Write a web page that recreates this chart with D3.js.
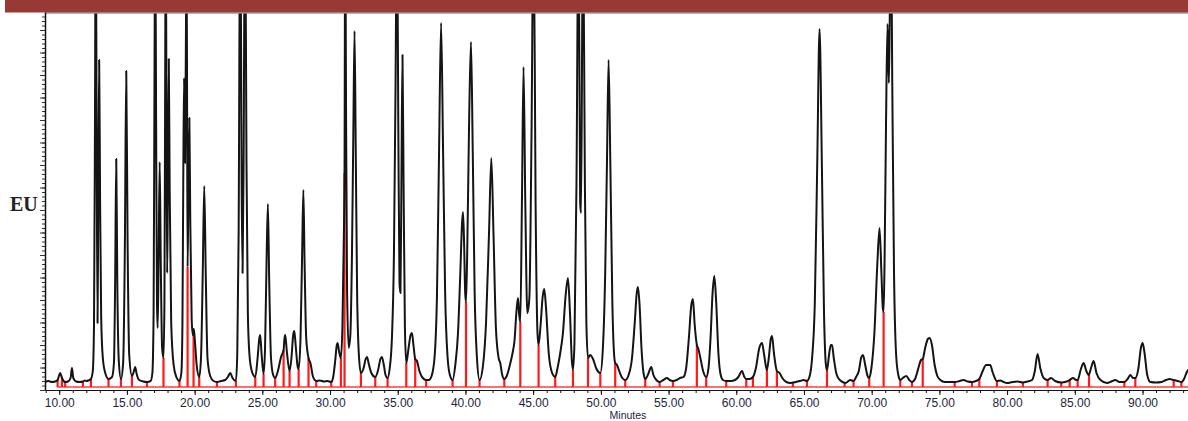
<!DOCTYPE html>
<html><head><meta charset="utf-8">
<script src="https://cdn.jsdelivr.net/npm/d3@7"></script>
<style>html,body{margin:0;padding:0;background:#fff;} svg{display:block}</style>
</head><body><svg id="chart" width="1188" height="421"></svg>
<script>
// Chromatogram trace: [retention time (min), signal (EU)]
const trace = [
[8.95,1],[9.20,2],[9.45,1],[9.70,1.5],[9.88,3],[9.98,7],[10.07,10],[10.18,6],[10.32,2],[10.44,1],[10.65,1.5],[10.84,5],[10.94,15],[11.04,5],[11.25,1.5],[11.50,1],[11.75,1.5],[11.90,2.5],[12.00,2],[12.15,2.5],[12.34,4],[12.48,12],
[12.57,60],[12.64,260],[12.70,480],[12.76,260],[12.83,60],[12.88,170],[12.95,323],[13.02,180],[13.10,65],[13.22,25],[13.40,10],[13.64,4],
[13.90,6],[14.04,20],[14.13,100],[14.21,224],[14.29,100],[14.40,22],[14.56,4],[14.72,20],[14.85,140],[14.95,312],[15.05,140],[15.17,28],[15.37,7],[15.50,11],[15.61,16],[15.72,9],[15.90,3],[16.20,1.5],[16.48,1],[16.75,2],
[16.88,10],[16.97,70],[17.03,280],[17.09,470],[17.15,280],[17.22,80],[17.27,55],[17.34,120],[17.42,221],[17.50,120],[17.60,35],[17.70,25],[17.77,80],[17.82,280],[17.87,470],[17.92,260],[17.97,110],[18.02,180],[18.09,324],[18.16,190],[18.27,60],[18.45,18],[18.65,6],[18.88,2],
[19.02,10],[19.10,60],[19.16,200],[19.22,305],[19.29,220],[19.35,330],[19.40,430],[19.44,300],[19.48,116],[19.54,190],[19.61,265],[19.68,160],[19.78,65],[19.86,48],[19.94,54],[20.02,42],[20.15,18],[20.34,6],[20.47,25],[20.60,110],[20.71,197],[20.82,110],[20.95,25],[21.15,7],[21.40,2],[21.65,1],[21.95,2],[22.25,3],[22.45,6],[22.63,10],[22.80,5],[23.05,2],
[23.15,30],[23.25,150],[23.37,500],[23.47,200],[23.54,110],[23.62,230],[23.72,500],[23.83,220],[23.93,70],[24.05,28],[24.22,12],[24.48,6],[24.65,25],[24.78,45],[24.84,48],[24.95,28],[25.09,9],[25.20,35],[25.31,120],[25.41,179],[25.51,100],[25.64,25],[25.80,8],[25.95,5],
[26.15,12],[26.38,26],[26.57,33],[26.64,45],[26.69,48],[26.80,33],[27.01,12],[27.15,25],[27.28,48],[27.36,52],[27.46,38],[27.60,17],[27.68,14],[27.82,45],[27.94,130],[28.03,193],[28.12,120],[28.24,45],[28.41,25],[28.55,20],[28.75,6],[28.98,2],[29.25,2.5],[29.55,1.5],[29.80,2],[30.09,1],
[30.22,5],[30.38,22],[30.50,38],[30.56,40],[30.66,32],[30.80,25],[30.92,60],[31.00,130],[31.07,210],[31.12,480],[31.18,280],[31.26,90],[31.38,35],[31.50,48],[31.62,130],[31.72,250],[31.81,352],[31.90,230],[32.00,90],[32.13,28],[32.28,10],[32.48,15],[32.63,24],[32.73,26],[32.86,19],[33.05,10],[33.34,6],[33.55,13],[33.72,24],[33.83,26],[33.96,19],[34.10,8],[34.25,5],
[34.40,14],[34.57,45],[34.72,130],[34.84,300],[34.94,480],[35.04,260],[35.13,100],[35.20,90],[35.27,200],[35.35,328],[35.43,200],[35.53,55],[35.63,20],[35.80,35],[35.95,48],[36.05,50],[36.16,38],[36.29,24],[36.42,22],[36.60,12],[36.85,5],[37.10,3],[37.30,3],
[37.50,7],[37.72,26],[37.90,90],[38.05,230],[38.20,360],[38.35,230],[38.50,90],[38.68,26],[38.85,8],[39.05,3],[39.25,18],[39.45,50],[39.62,110],[39.75,160],[39.82,171],[39.90,140],[39.98,90],[40.04,81],[40.13,130],[40.28,270],[40.41,341],[40.54,230],[40.68,90],[40.85,25],[41.04,3],
[41.30,18],[41.52,60],[41.74,150],[41.91,225],[42.07,150],[42.25,55],[42.45,25],[42.57,20],[42.70,9],[42.87,4],[43.05,7],[43.28,18],[43.48,30],[43.62,42],[43.77,72],[43.88,85],[43.97,68],[44.05,61],[44.17,180],[44.29,316],[44.42,180],[44.57,70],[44.72,85],[44.88,250],[45.03,480],[45.18,180],[45.32,50],[45.40,38],[45.55,58],[45.70,86],[45.82,94],[45.95,75],[46.15,30],[46.40,10],[46.63,6],[46.80,15],[47.00,30],[47.20,50],[47.40,88],[47.57,105],[47.72,70],[47.86,22],[47.94,13],[48.05,40],[48.20,200],[48.35,480],[48.47,180],[48.54,170],[48.68,480],[48.82,200],[48.93,60],[49.05,25],[49.22,28],[49.42,24],[49.68,14],[49.96,10],[50.15,35],[50.32,110],[50.45,220],[50.57,323],[50.70,220],[50.85,80],[50.98,28],[51.06,20],[51.19,18],[51.38,11],[51.58,5],[51.80,3],
[52.05,8],[52.30,25],[52.50,60],[52.65,90],[52.74,96],[52.86,78],[53.00,35],[53.15,10],[53.28,4],[53.50,9],[53.72,16],[53.88,8],[54.10,3],[54.34,1],[54.62,3],[54.88,5],[55.08,3],[55.32,2],
[55.60,3],[55.85,5],[56.10,6],[56.30,15],[56.50,45],[56.68,78],[56.80,84],[56.92,60],[57.09,38],[57.20,34],[57.35,25],[57.55,12],[57.78,6],[57.95,15],[58.10,45],[58.25,90],[58.38,107],[58.52,80],[58.68,30],[58.85,8],[59.02,3],[59.26,2],[59.60,2],[59.90,3],[60.15,6],[60.42,12],[60.60,6],[60.74,4],[60.98,4],[61.23,6],[61.45,15],[61.70,35],[61.90,40],[62.06,28],[62.26,13],[62.40,25],[62.55,44],[62.64,47],[62.78,30],[63.00,12],[63.20,10],[63.40,5],[63.70,1],[63.99,0],[64.40,1],[64.70,2],[64.97,3],[65.22,2],
[65.40,6],[65.60,25],[65.80,80],[65.98,220],[66.15,354],[66.32,220],[66.48,70],[66.62,18],[66.70,13],[66.85,28],[66.98,38],[67.07,38],[67.20,25],[67.40,9],[67.65,3],[68.06,0],[68.42,3],[68.66,2],[68.85,6],[69.05,12],[69.22,25],[69.36,28],[69.52,18],[69.70,7],[69.82,5],[69.98,15],[70.20,50],[70.42,120],[70.58,155],[70.72,110],[70.82,75],[70.88,71],[70.95,120],[71.06,260],[71.17,359],[71.27,300],[71.33,360],[71.42,470],[71.52,300],[71.65,110],[71.82,25],[72.00,6],[72.11,3],[72.30,5],[72.56,7],[72.78,3],[72.98,1],[73.20,4],[73.45,15],[73.64,23],[73.77,24],[73.95,35],[74.15,44],[74.28,45],[74.45,38],[74.65,18],[74.85,7],[75.07,3],[75.40,1],[75.80,1],[76.13,1],[76.50,2],[76.79,3],[77.10,1.5],[77.41,1],[77.70,2],[77.95,4],[78.20,12],[78.45,18],[78.75,18],[78.95,10],[79.25,2],[79.50,2.5],[79.75,1],[79.99,0],[80.40,1],[80.78,1.5],[81.17,0.5],[81.50,1.5],[81.84,3],[82.05,12],[82.25,29],[82.45,15],[82.70,5],[82.99,3],[83.24,5],[83.55,2],[84.00,0.5],[84.40,1.5],[84.62,3],[84.87,5],[85.10,3],[85.21,3],[85.45,14],[85.65,20],[85.85,12],[86.02,8],[86.22,16],[86.39,22],[86.60,10],[86.90,3],[87.38,0],[87.70,1.5],[87.99,3],[88.30,1],[88.66,1],[88.90,4],[89.10,8],[89.30,5],[89.47,5],[89.70,15],[89.88,35],[90.01,40],[90.15,30],[90.35,8],[90.58,1],[91.00,0.5],[91.40,1],[91.75,3],[92.00,4],[92.30,3],[92.60,2],[92.87,1],[93.10,5],[93.24,10],[93.45,14]
];

// Integration drop-line times (min)
const dropTimes = [9.88,10.20,10.44,11.75,12.34,13.64,14.56,15.37,16.48,17.70,18.88,19.48,19.92,20.34,21.65,23.05,24.48,25.09,25.95,26.57,27.01,27.68,28.41,28.98,30.09,30.80,31.07,32.28,33.34,34.25,35.63,36.29,37.10,39.05,40.04,41.04,42.87,44.05,45.40,46.63,47.94,49.05,49.96,51.06,51.80,53.28,54.34,55.32,57.09,57.78,59.26,60.74,61.23,62.26,63.00,64.18,65.22,66.70,68.00,68.66,69.82,70.88,72.11,72.98,73.77,76.13,77.41,77.95,79.25,81.17,82.99,84.00,84.62,85.21,86.05,88.66,89.47,92.30,92.87];

const xMajorTicks = [10,15,20,25,30,35,40,45,50,55,60,65,70,75,80,85,90];
const xMinorTicks = d3.range(9, 94, 1);
const xTitle = "Minutes";
const yTitle = "EU";
const baselineStart = 9.85;

const W = 1188, H = 421;
const svg = d3.select("#chart");

const x = d3.scaleLinear().domain([8.95, 93.36]).range([45, 1188]);
const y = d3.scaleLinear().domain([-7, 371]).range([390, 12]);

// header bar
svg.append("rect").attr("x",5).attr("y",0).attr("width",W-5).attr("height",12.5).attr("fill","#973a36");
svg.append("line").attr("x1",45).attr("x2",W).attr("y1",13).attr("y2",13).attr("stroke","#666").attr("stroke-width",1);

svg.append("defs").append("clipPath").attr("id","plotclip")
  .append("rect").attr("x",45).attr("y",13.5).attr("width",W-45).attr("height",390-13.5);

const gPlot = svg.append("g").attr("clip-path","url(#plotclip)");
const gBase = gPlot.append("g");
const gDrops = gPlot.append("g");
const gTrace = gPlot.append("g");

const line = d3.line().x(d=>x(d[0])).y(d=>y(d[1])).curve(d3.curveMonotoneX);
const path = gTrace.append("path").datum(trace)
  .attr("d", line).attr("fill","none").attr("stroke","#141414").attr("stroke-width",2)
  .attr("stroke-linejoin","round");

// red baseline
gBase.append("line").attr("x1",x(baselineStart)).attr("x2",W).attr("y1",y(-4)).attr("y2",y(-4))
  .attr("stroke","#ff3d3d").attr("stroke-width",1.6);

// drop lines up to curve
const node = path.node();
const L = node.getTotalLength();
function curveY(px){
  let lo=0, hi=L;
  for(let i=0;i<40;i++){
    const mid=(lo+hi)/2;
    if(node.getPointAtLength(mid).x < px) lo=mid; else hi=mid;
  }
  return node.getPointAtLength((lo+hi)/2).y;
}
gDrops.selectAll("line").data(dropTimes).join("line")
  .attr("x1",d=>x(d)).attr("x2",d=>x(d))
  .attr("y1",y(-4)).attr("y2",d=>curveY(x(d)))
  .attr("stroke","#ff1a1a").attr("stroke-width",2.2);

// x axis
const gx = svg.append("g").attr("transform","translate(0,390)");
gx.call(d3.axisBottom(x).tickValues(xMinorTicks).tickSize(3).tickSizeOuter(0).tickFormat(""));
gx.select(".domain").attr("stroke","#111");
gx.selectAll(".tick line").attr("stroke","#111");
const gx2 = svg.append("g").attr("transform","translate(0,390)");
gx2.call(d3.axisBottom(x).tickValues(xMajorTicks).tickSize(5).tickPadding(3).tickFormat(d=>d3.format(".2f")(d)));
gx2.select(".domain").remove();
gx2.selectAll(".tick line").attr("stroke","#111");
gx2.selectAll("text").attr("font-family","'Liberation Sans', Arial, sans-serif").attr("font-size","12px").attr("fill","#1e1e40");

// y axis (unlabelled EU scale)
const yMinor = d3.range(-7, 371, 4.5);
const gy = svg.append("g").attr("transform","translate(45,0)");
gy.call(d3.axisLeft(y).tickValues(yMinor).tickSize(3).tickSizeOuter(0).tickFormat(""));
gy.select(".domain").attr("stroke","#111").attr("stroke-width",1.5);
gy.selectAll(".tick line").attr("stroke","#333");
const gy2 = svg.append("g").attr("transform","translate(45,0)");
gy2.call(d3.axisLeft(y).tickValues(yMinor.filter((d,i)=>i%5===0)).tickSize(5).tickFormat(""));
gy2.select(".domain").remove();
gy2.selectAll(".tick line").attr("stroke","#333");

svg.append("text").attr("x",628).attr("y",418.7).attr("text-anchor","middle")
  .attr("font-family","'Liberation Sans', Arial, sans-serif").attr("font-size","10.5px").attr("fill","#1e1e40").text(xTitle);
svg.append("text").attr("x",10).attr("y",211)
  .attr("font-family","'Liberation Serif', 'Times New Roman', serif").attr("font-weight","bold").attr("font-size","20px").attr("fill","#222").text(yTitle);
</script>
</body></html>
